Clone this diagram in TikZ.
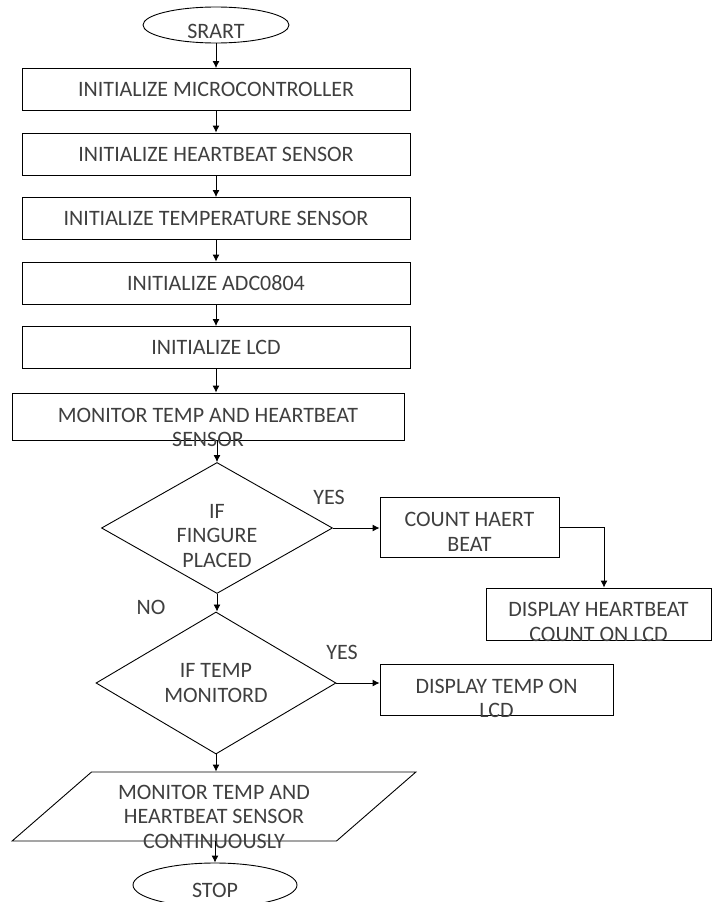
\documentclass[tikz,border=0pt]{standalone}
\usepackage{fontspec}
\setmainfont{Carlito}
\usepackage{tikz}
\usetikzlibrary{shapes.geometric,arrows.meta}
\definecolor{txtgray}{HTML}{3F3F3F}

\begin{document}
\begin{tikzpicture}[x=1pt, y=-1pt, node distance={64.5pt}, line width=0.9pt,
    >={Latex[length=7pt,width=7pt]},
    every node/.style={font=\fontsize{22}{24.5}\selectfont, text=txtgray},
    term/.style={draw, ellipse, minimum width=146pt, minimum height=36pt, inner sep=0pt},
    proc/.style={draw, rectangle, minimum width=388pt, minimum height=42pt, inner sep=0pt, align=center},
    decis/.style={draw, diamond, inner sep=0pt, align=center},
    io/.style={draw, trapezium, trapezium left angle=41, trapezium right angle=139,
      inner xsep=122.5pt, inner ysep=34.5pt},
    note/.style={align=center}]
  \useasboundingbox (0,0) rectangle (712,902);

  % main column
  \node[term, label={[yshift=-6pt]center:SRART}] (start) at (216,25) {};
  \node[proc] (i_mc) [below of=start] {INITIALIZE MICROCONTROLLER};
  \node[proc] (i_hb) [below of=i_mc] {INITIALIZE HEARTBEAT SENSOR};
  \node[proc] (i_temp) [below of=i_hb] {INITIALIZE TEMPERATURE SENSOR};
  \node[proc] (i_adc) [below of=i_temp] {INITIALIZE ADC0804};
  \node[proc] (i_lcd) [below of=i_adc] {INITIALIZE LCD};
  \node[proc, minimum width=392pt, minimum height=47pt,
    label={[note, yshift=-11pt]center:{MONITOR TEMP AND HEARTBEAT\\SENSOR}}] (mon) at (208,416.5) {};
  \node[decis, minimum width=231pt, minimum height=131pt,
    label={[note, yshift=-8pt]center:{IF\\FINGURE\\PLACED}}] (d_fing) at (217,528) {};
  \node[decis, minimum width=240pt, minimum height=132pt] (d_temp) at (216,683) {IF TEMP\\MONITORD};
  \node[io, label={[note, yshift=-10pt]center:{MONITOR TEMP AND\\HEARTBEAT SENSOR\\CONTINUOUSLY}}] (cont) at (214,806.5) {};
  \node[term, minimum width=164pt, minimum height=44pt,
    label={[yshift=-5pt]center:STOP}] (stop) at (215,885) {};

  % side boxes
  \node[proc, minimum width=179pt, minimum height=60pt,
    label={[note, yshift=-5pt]center:{COUNT HAERT\\BEAT}}] (count) at (469.5,527) {};
  \node[proc, minimum width=225pt, minimum height=52pt,
    label={[note, yshift=-8pt]center:{DISPLAY HEARTBEAT\\COUNT ON LCD}}] (disp_hb) at (598.5,614) {};
  \node[proc, minimum width=233pt, minimum height=51pt,
    label={[note, yshift=-9pt]center:{DISPLAY TEMP ON\\LCD}}] (disp_temp) at (496.5,689.5) {};

  \node (yes_1) at (329,497) {YES};
  \node (no_1) at (151,607) {NO};
  \node (yes_2) at (342,652) {YES};

  \draw[->] (start) -- (i_mc);
  \draw[->] (i_mc) -- (i_hb);
  \draw[->] (i_hb) -- (i_temp);
  \draw[->] (i_temp) -- (i_adc);
  \draw[->] (i_adc) -- (i_lcd);
  \draw[->] (i_lcd.south) -- (i_lcd.south |- mon.north);
  \draw[->] (d_fing.north |- mon.south) -- (d_fing.north);
  \draw[->] (d_fing.east) -- (count.west |- d_fing.east);
  \draw[->] (count.east) -| ([xshift=5.5pt]disp_hb.north);
  \draw[->] (d_fing.south) -- (d_fing.south |- d_temp.north);
  \draw[->] (d_temp.east) -- (disp_temp.west |- d_temp.east);
  \draw[->] (d_temp.south) -- (d_temp.south |- cont.north);
  \draw[->] (stop.north |- cont.south) -- (stop.north);
\end{tikzpicture}
\end{document}
